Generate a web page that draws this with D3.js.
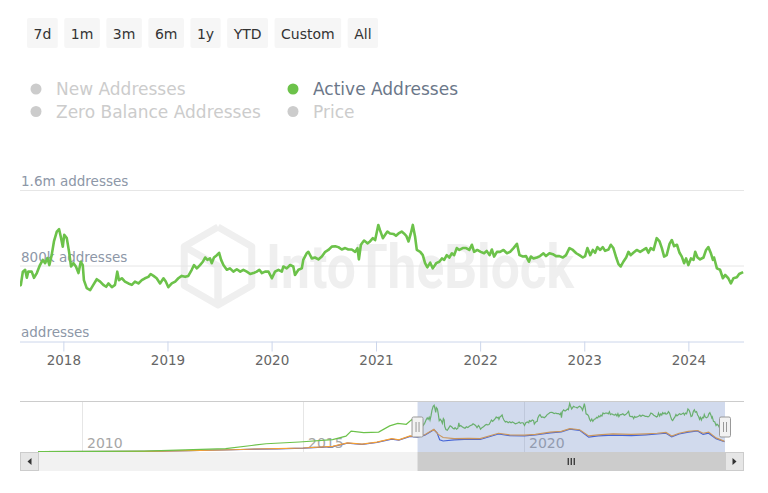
<!DOCTYPE html>
<html><head><meta charset="utf-8">
<script src="https://cdn.jsdelivr.net/npm/d3@7"></script>
<style>body{margin:0;background:#fff} svg{display:block}</style>
</head><body>
<svg id="c" width="768" height="493"></svg>
<script>
// ---------- DATA ----------
const rangeButtons = ["7d","1m","3m","6m","1y","YTD","Custom","All"];
const legendNames = ["New Addresses","Active Addresses","Zero Balance Addresses","Price"];
const legendVisible = [false, true, false, false];
const seriesColors = ["#3556e0","#6cc24a","#f5a033","#999999"];

const yTickValues = [0, 800, 1600];               // thousands of addresses
const yTickLabels = ["addresses","800k addresses","1.6m addresses"];
const xTickYears = [2018,2019,2020,2021,2022,2023,2024];
const navTickYears = [2010,2015,2020];

const viewStart = "2017-08-02", viewEnd = "2024-07-14", navStart = "2009-01-03";

// Active addresses (thousands), main chart
const activeDates = [
"2017-08-01","2017-08-05","2017-08-12","2017-08-20","2017-08-26","2017-08-31","2017-09-12","2017-09-20","2017-09-30","2017-10-11","2017-10-21","2017-10-29","2017-11-06","2017-11-13","2017-11-21","2017-11-29","2017-12-09","2017-12-17","2017-12-23","2017-12-30",
"2018-01-04","2018-01-13","2018-01-21","2018-01-28","2018-02-05","2018-02-14","2018-02-23","2018-03-03","2018-03-10","2018-03-14","2018-03-24","2018-04-05","2018-04-16","2018-04-28","2018-05-10","2018-05-21","2018-05-31","2018-06-08","2018-06-20","2018-07-01","2018-07-09","2018-07-15","2018-07-25","2018-08-05","2018-08-17","2018-08-29","2018-09-09","2018-09-21","2018-10-03","2018-10-14","2018-10-26","2018-11-03","2018-11-13","2018-11-24","2018-12-06","2018-12-18","2018-12-26",
"2019-01-04","2019-01-16","2019-01-28","2019-02-08","2019-02-20","2019-03-04","2019-03-15","2019-03-27","2019-04-04","2019-04-14","2019-04-25","2019-05-05","2019-05-13","2019-05-21","2019-05-30","2019-06-05","2019-06-13","2019-06-23","2019-07-01","2019-07-08","2019-07-16","2019-07-28","2019-08-08","2019-08-20","2019-09-01","2019-09-13","2019-09-24","2019-10-06","2019-10-18","2019-10-29","2019-11-10","2019-11-19","2019-11-28","2019-12-09","2019-12-21",
"2020-01-02","2020-01-13","2020-01-25","2020-02-06","2020-02-11","2020-02-23","2020-03-06","2020-03-17","2020-03-23","2020-04-04","2020-04-16","2020-04-21","2020-05-03","2020-05-09","2020-05-21","2020-06-01","2020-06-13","2020-06-25","2020-07-07","2020-07-18","2020-07-30","2020-08-11","2020-08-22","2020-09-03","2020-09-15","2020-09-26","2020-10-08","2020-10-20","2020-10-28","2020-11-02","2020-11-09","2020-11-20","2020-12-02","2020-12-11","2020-12-21","2020-12-29",
"2021-01-09","2021-01-15","2021-01-25","2021-02-02","2021-02-10","2021-02-19","2021-03-03","2021-03-12","2021-03-21","2021-04-01","2021-04-09","2021-04-17","2021-04-25","2021-05-03","2021-05-10","2021-05-18","2021-05-24","2021-06-05","2021-06-14","2021-06-22","2021-06-30","2021-07-10","2021-07-19","2021-07-31","2021-08-11","2021-08-20","2021-08-28","2021-09-06","2021-09-15","2021-09-24","2021-10-02","2021-10-11","2021-10-20","2021-11-01","2021-11-13","2021-11-24","2021-12-03","2021-12-11","2021-12-22",
"2022-01-03","2022-01-15","2022-01-24","2022-02-03","2022-02-11","2022-02-19","2022-03-01","2022-03-12","2022-03-24","2022-04-05","2022-04-16","2022-04-28","2022-05-10","2022-05-19","2022-05-31","2022-06-11","2022-06-21","2022-06-28","2022-07-07","2022-07-19","2022-07-30","2022-08-11","2022-08-20","2022-09-01","2022-09-13","2022-09-24","2022-10-06","2022-10-18","2022-10-29","2022-11-10","2022-11-22","2022-12-04","2022-12-15","2022-12-27",
"2023-01-04","2023-01-12","2023-01-22","2023-01-31","2023-02-08","2023-02-16","2023-02-26","2023-03-07","2023-03-15","2023-03-27","2023-04-04","2023-04-13","2023-04-23","2023-05-01","2023-05-09","2023-05-18","2023-05-28","2023-06-05","2023-06-13","2023-06-22","2023-07-04","2023-07-16","2023-07-27","2023-08-06","2023-08-14","2023-08-22","2023-09-01","2023-09-12","2023-09-22","2023-09-30","2023-10-08","2023-10-17","2023-10-27","2023-11-04","2023-11-12","2023-11-22","2023-12-01","2023-12-09","2023-12-17","2023-12-24",
"2024-01-01","2024-01-10","2024-01-19","2024-01-25","2024-02-02","2024-02-11","2024-02-23","2024-03-03","2024-03-11","2024-03-20","2024-03-27","2024-03-31","2024-04-10","2024-04-21","2024-05-01","2024-05-09","2024-05-20","2024-05-29","2024-06-07","2024-06-19","2024-06-27","2024-07-11"
];
const activeValues = [
590,600,740,760,675,740,740,675,725,810,865,830,885,810,915,1060,1165,1190,1110,1005,
1130,1095,950,795,830,795,725,845,810,650,565,545,600,660,635,600,580,615,575,600,740,650,670,635,615,600,635,615,650,670,685,715,695,670,615,670,635,
575,615,635,670,695,685,695,760,810,775,810,845,890,865,880,830,890,915,940,865,810,760,775,740,765,740,760,740,715,725,740,760,725,740,740,
670,740,760,740,795,775,810,795,705,760,775,865,935,950,880,890,870,900,950,970,1005,1010,1000,975,990,975,975,950,990,870,1025,1070,1040,1060,1095,1075,
1235,1180,1095,1130,1165,1145,1140,1120,1145,1165,1145,1120,1060,1145,1235,1110,970,950,915,830,785,835,775,830,845,880,865,915,890,935,915,990,970,990,990,970,1025,950,970,
950,935,960,915,975,900,950,950,970,935,950,990,1035,915,900,905,845,900,880,890,905,935,905,935,925,905,905,890,915,990,970,935,915,890,
905,990,915,970,940,1000,970,1000,960,975,1025,990,890,820,795,845,890,950,915,940,970,950,970,990,940,990,970,1095,1060,990,900,915,1035,1075,1010,1025,940,900,830,880,
810,880,865,950,890,870,890,970,1000,935,865,890,775,760,670,705,670,615,670,680,715,735
];

// Navigator: early history of active addresses (thousands)
const navActiveEarlyDates = ["2009-01-03","2010-06-01","2011-06-01","2012-05-01","2013-04-01","2013-11-01","2014-03-01","2014-12-01","2015-09-01","2015-12-20","2016-02-01","2016-05-15","2016-09-15","2016-12-15","2017-02-20","2017-05-01","2017-06-15"];
const navActiveEarlyValues = [0,2,10,40,75,155,200,245,305,395,525,485,500,660,725,700,820];

// Navigator: new addresses (blue) and zero balance addresses (orange), thousands
const navNewDates = ["2009-01-03","2011-06-01","2012-06-01","2013-06-01","2013-12-01","2014-06-01","2015-01-01","2015-09-01","2016-01-01","2016-05-01","2016-09-01","2017-01-01","2017-03-01","2017-06-01","2017-08-01","2017-10-01","2017-12-15","2018-01-10","2018-02-01","2018-03-01","2018-06-01","2018-10-01","2019-01-01","2019-06-01","2019-09-01","2020-01-01","2020-04-01","2020-08-01","2020-11-01","2021-01-10","2021-04-01","2021-06-15","2021-09-01","2022-01-01","2022-06-01","2022-10-01","2023-01-01","2023-03-15","2023-05-01","2023-07-01","2023-09-15","2023-12-01","2024-01-15","2024-03-01","2024-05-01","2024-07-10"];
const navNewValues = [0,5,20,45,60,70,85,125,215,185,235,320,295,390,370,420,560,480,300,270,300,320,310,450,410,400,425,480,505,575,545,370,400,420,410,430,450,470,380,450,500,530,440,470,330,250];
const navZeroDates = ["2009-01-03","2011-06-01","2012-06-01","2013-06-01","2013-12-01","2014-06-01","2015-01-01","2015-09-01","2016-01-01","2016-05-01","2016-09-01","2017-01-01","2017-03-01","2017-06-01","2017-08-01","2017-10-01","2017-12-15","2018-01-20","2018-03-01","2018-06-01","2018-10-01","2019-01-01","2019-06-01","2019-09-01","2020-01-01","2020-04-01","2020-08-01","2020-11-01","2021-01-10","2021-04-01","2021-06-15","2021-09-01","2022-01-01","2022-06-01","2022-10-01","2023-01-01","2023-03-15","2023-05-01","2023-07-01","2023-09-15","2023-12-01","2024-01-15","2024-03-01","2024-05-01","2024-07-10"];
const navZeroValues = [0,5,20,45,65,75,90,130,220,190,240,330,300,400,380,430,570,440,360,330,340,330,470,430,420,440,500,520,590,560,400,430,455,440,455,470,490,400,470,520,540,470,500,350,260];

// ---------- DRAW ----------
const parse = d3.timeParse("%Y-%m-%d");
const FONT = "'DejaVu Sans', Verdana, sans-serif";
const svg = d3.select("#c");
const toPts = (ds, vs) => ds.map((d,i) => ({date: parse(d), value: vs[i]}));
const active = toPts(activeDates, activeValues);

// Range selector buttons
let bx = 27;
rangeButtons.forEach(label => {
  const g = svg.append("g");
  const t = g.append("text").text(label)
    .attr("font-family", FONT).attr("font-size", 14).attr("fill", "#333")
    .attr("y", 38.5).attr("text-anchor", "middle");
  const w = t.node().getComputedTextLength() + 13;
  g.insert("rect", "text").attr("x", bx).attr("y", 18).attr("width", w).attr("height", 30)
    .attr("rx", 2).attr("fill", "#f6f6f6");
  t.attr("x", bx + w / 2);
  bx += w + 6.5;
});

// Legend
const legCols = [36, 293], legRows = [89, 111.5];
legendNames.forEach((name, i) => {
  const cx = legCols[i % 2], cy = legRows[Math.floor(i / 2)];
  const on = legendVisible[i];
  svg.append("circle").attr("cx", cx).attr("cy", cy).attr("r", 5.5)
    .attr("fill", on ? seriesColors[i] : "#cccccc");
  svg.append("text").text(name).attr("x", cx + 20).attr("y", cy + 6)
    .attr("font-family", FONT).attr("font-size", 17)
    .attr("fill", on ? "#6b7789" : "#cccccc");
});

// Main chart
const M = {left: 20, right: 744, top: 190.5, bottom: 341.5};
const x = d3.scaleTime().domain([parse(viewStart), parse(viewEnd)]).range([M.left, M.right]);
const y = d3.scaleLinear().domain([0, 1600]).range([M.bottom, M.top]);

// watermark
const wm = svg.append("g").attr("fill", "none").attr("stroke", "#efefef").attr("stroke-width", 7).attr("stroke-linejoin", "round");
const hc = [218, 266], hr = 39;
const hex = d3.range(6).map(k => { const a = (-90 + 60 * k) * Math.PI / 180; return [hc[0] + hr * Math.cos(a), hc[1] + hr * Math.sin(a)]; });
wm.append("path").attr("d", d3.line()(hex.concat([hex[0]])));
wm.append("path").attr("d", d3.line()([hex[5], hc, hex[3]]));
wm.append("path").attr("d", d3.line()([hc, [hc[0], hc[1] + hr]]));
svg.append("text").text("IntoTheBlock").attr("x", 266).attr("y", 288)
  .attr("font-family", "Roboto, 'DejaVu Sans', sans-serif").attr("font-weight", "bold")
  .attr("font-size", 62).attr("fill", "#efefef")
  .attr("textLength", 308).attr("lengthAdjust", "spacingAndGlyphs");

// gridlines
yTickValues.forEach((v, i) => {
  if (v > 0) svg.append("line").attr("x1", M.left).attr("x2", M.right)
    .attr("y1", y(v)).attr("y2", y(v)).attr("stroke", "#e6e6e6").attr("stroke-width", 1);
  svg.append("text").text(yTickLabels[i]).attr("x", 21).attr("y", y(v) - 4.5)
    .attr("font-family", FONT).attr("font-size", 13.5).attr("fill", "#8d97a7");
});

// x axis
const xAxis = d3.axisBottom(x).tickValues(xTickYears.map(yr => new Date(yr, 0, 1)))
  .tickFormat(d3.timeFormat("%Y")).tickSize(10).tickPadding(4);
const ax = svg.append("g").attr("transform", `translate(0,${M.bottom})`).call(xAxis);
ax.select(".domain").attr("stroke", "#ccd6eb").attr("d", `M${M.left},0.5H${M.right}`);
ax.selectAll(".tick line").attr("stroke", "#ccd6eb");
ax.selectAll(".tick text").attr("font-family", FONT).attr("font-size", 13.5).attr("fill", "#666");

// clip + line
svg.append("clipPath").attr("id", "mclip").append("rect")
  .attr("x", M.left).attr("y", M.top - 20).attr("width", M.right - M.left).attr("height", M.bottom - M.top + 20);
svg.append("path").datum(active).attr("clip-path", "url(#mclip)")
  .attr("fill", "none").attr("stroke", seriesColors[1]).attr("stroke-width", 2.6)
  .attr("stroke-linejoin", "round")
  .attr("d", d3.line().x(d => x(d.date)).y(d => y(d.value)));

// Navigator
const N = {left: 38, right: 725, top: 401, bottom: 451.5};
const xn = d3.scaleTime().domain([parse(navStart), parse(viewEnd)]).range([N.left, N.right]);
const yn = d3.scaleLinear().domain([0, 1300]).range([N.bottom, N.top]);

svg.append("line").attr("x1", 20).attr("x2", 744).attr("y1", N.top + 0.5).attr("y2", N.top + 0.5)
  .attr("stroke", "#cccccc");
navTickYears.forEach(yr => {
  const px = Math.round(xn(new Date(yr, 0, 1))) + 0.5;
  svg.append("line").attr("x1", px).attr("x2", px).attr("y1", N.top + 1).attr("y2", 452)
    .attr("stroke", "#e6e6e6");
  svg.append("text").text(yr).attr("x", px + 4.5).attr("y", 447.5)
    .attr("font-family", FONT).attr("font-size", 14).attr("fill", "#a6a6a6");
});
svg.append("clipPath").attr("id", "nclip").append("rect")
  .attr("x", N.left).attr("y", N.top).attr("width", N.right - N.left).attr("height", N.bottom - N.top + 2);
const nl = d3.line().x(d => xn(d.date)).y(d => yn(d.value));
const navG = svg.append("g").attr("clip-path", "url(#nclip)").attr("fill", "none").attr("stroke-width", 1.2);
navG.append("path").datum(toPts(navNewDates, navNewValues)).attr("stroke", seriesColors[0]).attr("d", nl);
navG.append("path").datum(toPts(navZeroDates, navZeroValues)).attr("stroke", seriesColors[2]).attr("d", nl);
navG.append("path").datum(toPts(navActiveEarlyDates, navActiveEarlyValues).concat(active))
  .attr("stroke", seriesColors[1]).attr("d", nl);

// mask
const s0 = xn(parse(viewStart)), s1 = xn(parse(viewEnd));
svg.append("rect").attr("x", s0).attr("y", N.top + 1).attr("width", s1 - s0).attr("height", 452 - N.top - 1)
  .attr("fill", "rgba(102,133,194,0.3)");

// scrollbar
const SB = {y: 452, h: 19};
svg.append("rect").attr("x", 20).attr("y", SB.y).attr("width", 724).attr("height", SB.h).attr("fill", "#f2f2f2");
svg.append("rect").attr("x", s0).attr("y", SB.y).attr("width", s1 - s0).attr("height", SB.h).attr("fill", "#cccccc");
const gx = (s0 + s1) / 2;
[-3, 0, 3].forEach(o => svg.append("line").attr("x1", gx + o).attr("x2", gx + o)
  .attr("y1", SB.y + 6).attr("y2", SB.y + 13).attr("stroke", "#333").attr("stroke-width", 1.3));
[[20, -1], [725, 1]].forEach(([bx0, dir]) => {
  svg.append("rect").attr("x", bx0 + 0.5).attr("y", SB.y + 0.5).attr("width", 18).attr("height", SB.h - 1)
    .attr("fill", "#e6e6e6").attr("stroke", "#cccccc");
  const cx = bx0 + 9.5, cy = SB.y + SB.h / 2;
  svg.append("path").attr("fill", "#333")
    .attr("d", `M${cx + dir * 2},${cy}L${cx - dir * 2},${cy - 3.5}L${cx - dir * 2},${cy + 3.5}Z`);
});

// handles
[s0, s1].forEach(hx => {
  svg.append("rect").attr("x", hx - 5.5).attr("y", 417).attr("width", 11).attr("height", 20).attr("rx", 1.5)
    .attr("fill", "#f2f2f2").attr("stroke", "#999");
  [-1.5, 1.5].forEach(o => svg.append("line").attr("x1", hx + o).attr("x2", hx + o)
    .attr("y1", 422).attr("y2", 432).attr("stroke", "#999"));
});
</script>
</body></html>
